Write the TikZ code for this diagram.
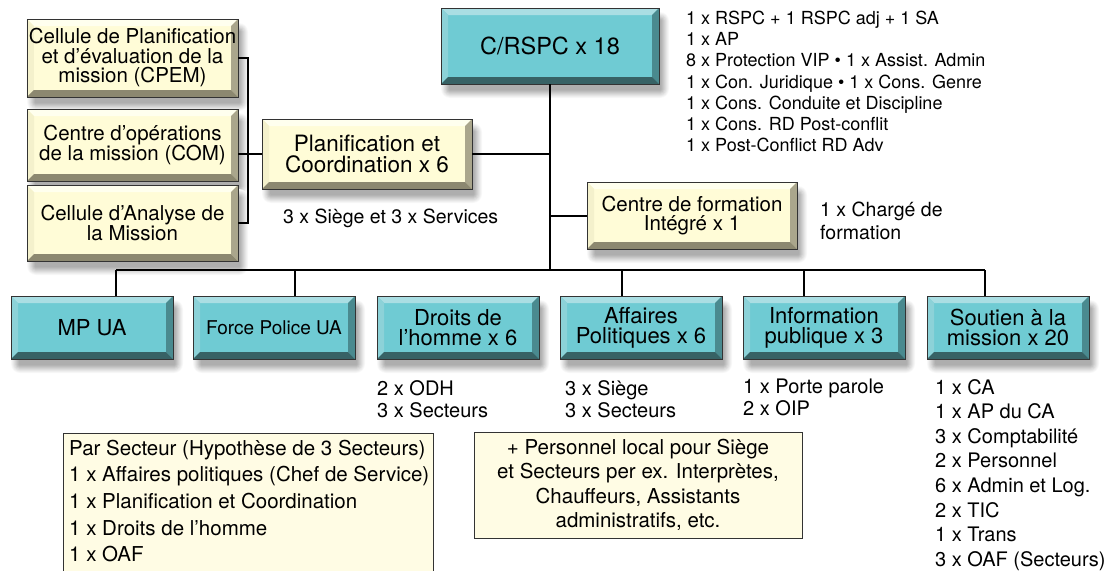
\documentclass[tikz,border=0pt]{standalone}
\usepackage{fontspec}
\setmainfont{TeX Gyre Heros}
\usetikzlibrary{calc}

\definecolor{tealface}{HTML}{6FCBD3}
\definecolor{tealtop}{HTML}{AADEE3}
\definecolor{tealleft}{HTML}{8CD2D8}
\definecolor{tealright}{HTML}{4A8A8F}
\definecolor{tealbottom}{HTML}{376265}
\definecolor{creamface}{HTML}{FFFCD7}
\definecolor{creamtop}{HTML}{FFFFEE}
\definecolor{creamleft}{HTML}{F4F1CC}
\definecolor{creamright}{HTML}{AAA68C}
\definecolor{creambottom}{HTML}{8C8870}
\definecolor{notefill}{HTML}{FFFCE4}
\definecolor{outline}{HTML}{333333}
% shadow greys, outermost to innermost
\definecolor{shA}{RGB}{248,248,248}
\definecolor{shB}{RGB}{240,240,240}
\definecolor{shC}{RGB}{231,231,231}
\definecolor{shD}{RGB}{221,221,221}
\definecolor{shE}{RGB}{211,211,211}
\definecolor{shF}{RGB}{201,201,201}
\definecolor{shG}{RGB}{191,191,191}
\definecolor{shH}{RGB}{182,182,182}
\definecolor{shI}{RGB}{174,174,174}

\newcommand{\bw}{7pt}

% soft drop shadow under the box spanning (#1,#2)-(#3,#4): nested greys, widest and lightest first
\newcommand{\shadowunder}[4]{%
  \foreach \k/\c in {9/shA,8/shB,7/shC,6/shD,5/shE,4/shF,3/shG,2/shH,1/shI}{%
    \path[fill=\c, rounded corners=\k pt] ({#1+9-\k},{#2+13-\k}) rectangle ({#3+1+\k},{#4+5+\k});
  }}

\tikzset{
  bevel/.style n args={4}{path picture={
    \fill[#1] (path picture bounding box.north west) -- (path picture bounding box.north east)
      -- ([shift={(-\bw,-\bw)}]path picture bounding box.north east)
      -- ([shift={(\bw,-\bw)}]path picture bounding box.north west) -- cycle;
    \fill[#2] (path picture bounding box.north west) -- ([shift={(\bw,-\bw)}]path picture bounding box.north west)
      -- ([shift={(\bw,\bw)}]path picture bounding box.south west)
      -- (path picture bounding box.south west) -- cycle;
    \fill[#3] (path picture bounding box.north east) -- (path picture bounding box.south east)
      -- ([shift={(-\bw,\bw)}]path picture bounding box.south east)
      -- ([shift={(-\bw,-\bw)}]path picture bounding box.north east) -- cycle;
    \fill[#4] (path picture bounding box.south west) -- (path picture bounding box.south east)
      -- ([shift={(-\bw,\bw)}]path picture bounding box.south east)
      -- ([shift={(\bw,\bw)}]path picture bounding box.south west) -- cycle;
  }},
  boxbase/.style={draw=outline, line width=0.6pt, inner sep=2pt, outer sep=0pt, align=center},
  tealbox/.style={boxbase, fill=tealface, bevel={tealtop}{tealleft}{tealright}{tealbottom}},
  creambox/.style={boxbase, fill=creamface, bevel={creamtop}{creamleft}{creamright}{creambottom}},
  link/.style={line width=2pt, black},
  caption/.style={inner sep=0pt, align=left, font=\fontsize{20}{23}\selectfont},
  notebox/.style={draw=outline, line width=0.8pt, fill=notefill, inner sep=0pt},
}

\begin{document}
\begin{tikzpicture}[x=1pt, y=-1pt]
\useasboundingbox (0,0) rectangle (1110,570);

% shadows, drawn first so the boxes sit on them
\shadowunder{441}{8}{659}{84}
\shadowunder{27}{19}{238}{97}
\shadowunder{27}{109}{238}{181}
\shadowunder{27}{185}{238}{261}
\shadowunder{262}{119}{472}{189}
\shadowunder{587}{182}{797}{249}
\foreach \xa in {11,193,377,560,743,927}{\shadowunder{\xa}{296}{\xa+162}{359}}

% head of the chain
\node[tealbox, minimum width=218, minimum height=76, font=\fontsize{23.5}{22}\selectfont]
  (rspc) at (550,46) {C/RSPC x 18};

% planning cells on the left
\node[creambox, minimum width=211, minimum height=78, font=\fontsize{20.5}{19.5}\selectfont]
  (cpem) at (132.5,58) {Cellule de Planification\\et d’évaluation de la\\mission (CPEM)};
\node[creambox, minimum width=211, minimum height=72, font=\fontsize{20.5}{19.5}\selectfont]
  (com) at (132.5,145) {Centre d’opérations\\de la mission (COM)};
\node[creambox, minimum width=211, minimum height=76, font=\fontsize{20.5}{16}\selectfont]
  (cam) at (132.5,223) {Cellule d’Analyse de\\la Mission};

\node[creambox, minimum width=210, minimum height=70, font=\fontsize{22.5}{20.5}\selectfont]
  (pc) at (367,154) {Planification et\\Coordination x 6};
\node[creambox, minimum width=210, minimum height=67, font=\fontsize{20.5}{19}\selectfont]
  (cfi) at (692,215.5) {Centre de formation\\Intégré x 1};

% divisions
\begin{scope}[every node/.style={tealbox, minimum width=162, minimum height=63, font=\fontsize{22}{20}\selectfont}]
  \node (mp) at (92,327.5) {MP UA};
  \node[font=\fontsize{19}{19}\selectfont] (fp) at (274,327.5) {Force Police UA};
  \node (dh) at (458,327.5) {Droits de\\l’homme x 6};
  \node (ap) at (641,327.5) {Affaires\\Politiques x 6};
  \node (ip) at (824,327.5) {Information\\publique x 3};
  \node (sm) at (1008,327.5) {Soutien à la\\mission x 20};
\end{scope}

% staffing details
\node[caption, anchor=north west, font=\fontsize{18}{21.3}\selectfont] (rspcstaff) at (686,10.5)
  {1 x RSPC + 1 RSPC adj + 1 SA\\1 x AP\\8 x Protection VIP • 1 x Assist. Admin\\1 x Con. Juridique • 1 x Cons. Genre\\1 x Cons. Conduite et Discipline\\1 x Cons. RD Post-conflit\\1 x Post-Conflict RD Adv};
\node[caption, anchor=base west, font=\fontsize{19.5}{23}\selectfont] (pcstaff) at (283,223) {3 x Siège et 3 x Services};
\node[caption, anchor=north west, font=\fontsize{19.5}{23}\selectfont] (cfistaff) at (820,202) {1 x Chargé de\\formation};
\node[caption, anchor=north west, font=\fontsize{20}{22}\selectfont] (dhstaff) at (377,380) {2 x ODH\\3 x Secteurs};
\node[caption, anchor=north west, font=\fontsize{20}{22}\selectfont] (apstaff) at (565,380) {3 x Siège\\3 x Secteurs};
\node[caption, anchor=north west, font=\fontsize{20}{22}\selectfont] (ipstaff) at (743,379) {1 x Porte parole\\2 x OIP};
\node[caption, anchor=north west, font=\fontsize{20}{24.6}\selectfont] (smstaff) at (935,379)
  {1 x CA\\1 x AP du CA\\3 x Comptabilité\\2 x Personnel\\6 x Admin et Log.\\2 x TIC\\1 x Trans\\3 x OAF (Secteurs)};

% notes at the bottom
\node[notebox, anchor=north west, minimum width=370, minimum height=160] (sect) at (63,433) {};
\node[caption, anchor=north west, font=\fontsize{20.5}{26.7}\selectfont] (secttext) at ([shift={(6pt,-6.6pt)}]sect.north west)
  {Par Secteur (Hypothèse de 3 Secteurs)\\1 x Affaires politiques (Chef de Service)\\1 x Planification et Coordination\\1 x Droits de l’homme\\1 x OAF};
\node[notebox, align=center, minimum width=328, minimum height=106, font=\fontsize{20.5}{24.4}\selectfont] (local) at (638,485)
  {+ Personnel local pour Siège\\et Secteurs per ex. Interprètes,\\Chauffeurs, Assistants\\administratifs, etc.};

% connectors
\coordinate (brk) at (248,0);
\coordinate (busL) at (116,270);
\coordinate (busR) at (985,270);

\draw[link] (cpem.east) -- (cpem.east -| brk) -- (cam.east -| brk) -- (cam.east);
\draw[link] (com.east |- pc.west) -- (pc.west);
\draw[link] (rspc.south) -- (rspc.south |- busL);
\draw[link] (pc.east) -- (pc.east -| rspc.south);
\draw[link] (cfi.west) -- (cfi.west -| rspc.south);
\draw[link] (busL) -- (busR);
\draw[link] ([xshift=24pt]mp.north) -- ([xshift=24pt]mp.north |- busL);
\draw[link] ([xshift=21pt]fp.north) -- ([xshift=21pt]fp.north |- busL);
\draw[link] ([xshift=-19pt]ap.north) -- ([xshift=-19pt]ap.north |- busL);
\draw[link] ([xshift=-20pt]ip.north) -- ([xshift=-20pt]ip.north |- busL);
\draw[link] ([xshift=-23pt]sm.north) -- ([xshift=-23pt]sm.north |- busL);
\end{tikzpicture}
\end{document}
